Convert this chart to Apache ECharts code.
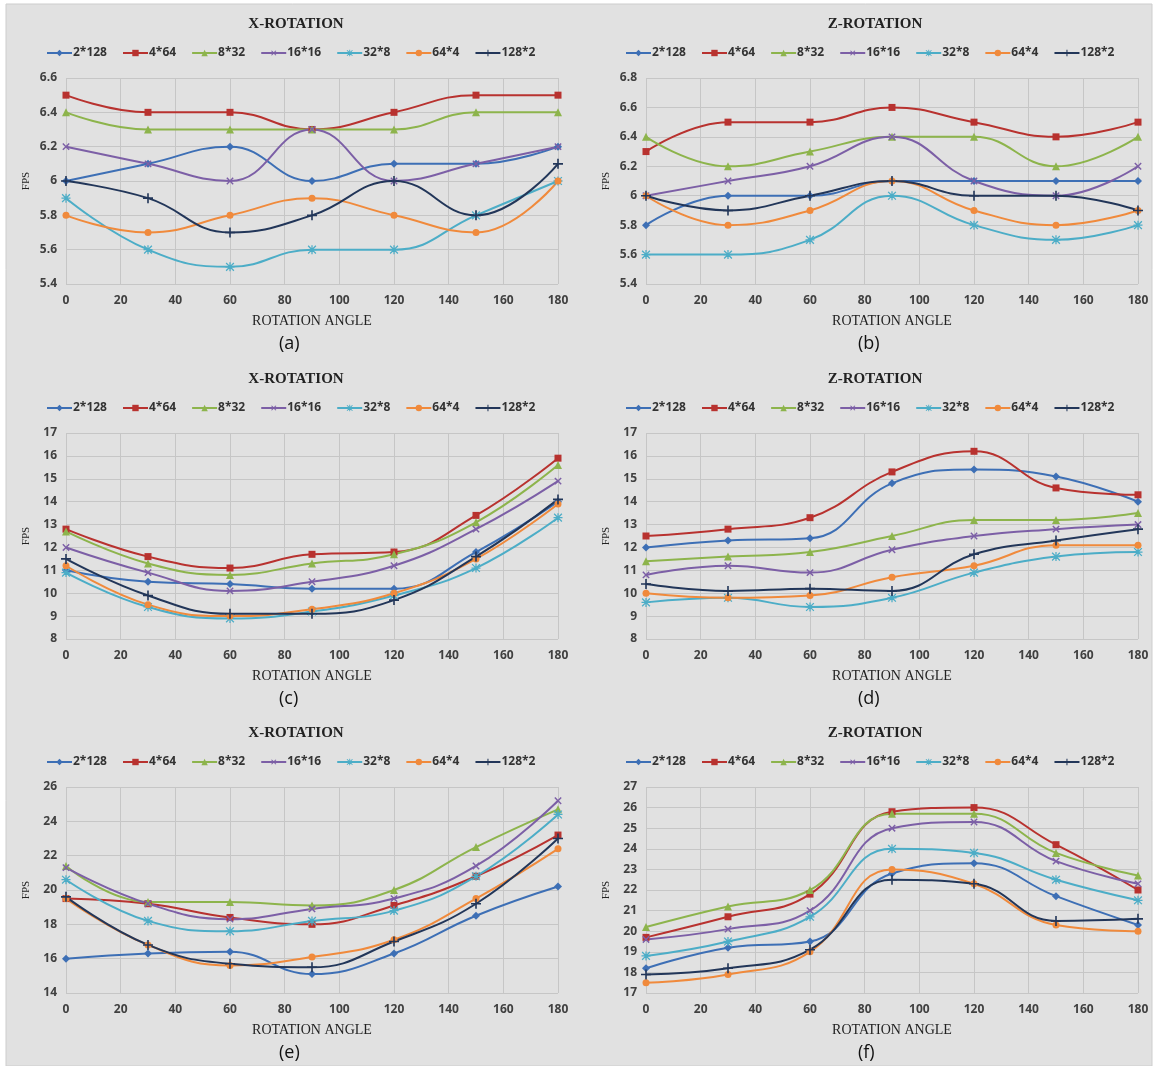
<!DOCTYPE html>
<html><head><meta charset="utf-8">
<script src="https://cdn.jsdelivr.net/npm/echarts@6/dist/echarts.min.js"></script>
<style>html,body{margin:0;padding:0;background:#ffffff;}#c{width:1158px;height:1066px;}</style>
</head><body><div id="c"></div>
<script>
const angles = [0, 30, 60, 90, 120, 150, 180];
const seriesNames = ['2*128', '4*64', '8*32', '16*16', '32*8', '64*4', '128*2'];
const xTicks = [0, 20, 40, 60, 80, 100, 120, 140, 160, 180];
const panelTitles = ['X-ROTATION', 'Z-ROTATION', 'X-ROTATION', 'Z-ROTATION', 'X-ROTATION', 'Z-ROTATION'];
const panelLabels = ['(a)', '(b)', '(c)', '(d)', '(e)', '(f)'];
const yRanges = [[5.4, 6.6, 0.2], [5.4, 6.8, 0.2], [8, 17, 1], [8, 17, 1], [14, 26, 2], [17, 27, 1]];

const panelA = [
  [6.0, 6.1, 6.2, 6.0, 6.1, 6.1, 6.2],
  [6.5, 6.4, 6.4, 6.3, 6.4, 6.5, 6.5],
  [6.4, 6.3, 6.3, 6.3, 6.3, 6.4, 6.4],
  [6.2, 6.1, 6.0, 6.3, 6.0, 6.1, 6.2],
  [5.9, 5.6, 5.5, 5.6, 5.6, 5.8, 6.0],
  [5.8, 5.7, 5.8, 5.9, 5.8, 5.7, 6.0],
  [6.0, 5.9, 5.7, 5.8, 6.0, 5.8, 6.1]
];
const panelB = [
  [5.8, 6.0, 6.0, 6.1, 6.1, 6.1, 6.1],
  [6.3, 6.5, 6.5, 6.6, 6.5, 6.4, 6.5],
  [6.4, 6.2, 6.3, 6.4, 6.4, 6.2, 6.4],
  [6.0, 6.1, 6.2, 6.4, 6.1, 6.0, 6.2],
  [5.6, 5.6, 5.7, 6.0, 5.8, 5.7, 5.8],
  [6.0, 5.8, 5.9, 6.1, 5.9, 5.8, 5.9],
  [6.0, 5.9, 6.0, 6.1, 6.0, 6.0, 5.9]
];
const panelC = [
  [11.0, 10.5, 10.4, 10.2, 10.2, 11.8, 14.0],
  [12.8, 11.6, 11.1, 11.7, 11.8, 13.4, 15.9],
  [12.7, 11.3, 10.8, 11.3, 11.7, 13.1, 15.6],
  [12.0, 10.9, 10.1, 10.5, 11.2, 12.8, 14.9],
  [10.9, 9.4, 8.9, 9.2, 9.9, 11.1, 13.3],
  [11.2, 9.5, 9.0, 9.3, 10.0, 11.5, 13.9],
  [11.5, 9.9, 9.1, 9.1, 9.7, 11.6, 14.1]
];
const panelD = [
  [12.0, 12.3, 12.4, 14.8, 15.4, 15.1, 14.0],
  [12.5, 12.8, 13.3, 15.3, 16.2, 14.6, 14.3],
  [11.4, 11.6, 11.8, 12.5, 13.2, 13.2, 13.5],
  [10.8, 11.2, 10.9, 11.9, 12.5, 12.8, 13.0],
  [9.6, 9.8, 9.4, 9.8, 10.9, 11.6, 11.8],
  [10.0, 9.8, 9.9, 10.7, 11.2, 12.1, 12.1],
  [10.4, 10.1, 10.2, 10.1, 11.7, 12.3, 12.8]
];
const panelE = [
  [16.0, 16.3, 16.4, 15.1, 16.3, 18.5, 20.2],
  [19.5, 19.2, 18.4, 18.0, 19.1, 20.8, 23.2],
  [21.4, 19.3, 19.3, 19.1, 20.0, 22.5, 24.7],
  [21.3, 19.2, 18.3, 18.9, 19.5, 21.4, 25.2],
  [20.6, 18.2, 17.6, 18.2, 18.8, 20.8, 24.4],
  [19.5, 16.8, 15.6, 16.1, 17.1, 19.5, 22.4],
  [19.6, 16.8, 15.7, 15.5, 17.0, 19.2, 23.0]
];
const panelF = [
  [18.2, 19.2, 19.5, 22.8, 23.3, 21.7, 20.3],
  [19.7, 20.7, 21.8, 25.8, 26.0, 24.2, 22.0],
  [20.2, 21.2, 22.0, 25.7, 25.7, 23.8, 22.7],
  [19.6, 20.1, 21.0, 25.0, 25.3, 23.4, 22.3],
  [18.8, 19.5, 20.7, 24.0, 23.8, 22.5, 21.5],
  [17.5, 17.9, 19.0, 23.0, 22.3, 20.3, 20.0],
  [17.9, 18.2, 19.1, 22.5, 22.3, 20.5, 20.6]
];
const panels = [panelA, panelB, panelC, panelD, panelE, panelF];

const colors = ['#3d6fb5', '#b8322f', '#8db44c', '#7c5fa6', '#4cadc7', '#f08a3c', '#223659'];
const PLUS = 'path://M4.2,0H5.8V4.2H10V5.8H5.8V10H4.2V5.8H0V4.2H4.2Z';
const STAR = 'path://M4.3,0H5.7V4.3H10V5.7H5.7V10H4.3V5.7H0V4.3H4.3Z M1.2,0.2L5,4L8.8,0.2L9.8,1.2L6,5L9.8,8.8L8.8,9.8L5,6L1.2,9.8L0.2,8.8L4,5L0.2,1.2Z';
const symbols = ['diamond', 'rect', 'triangle', PLUS, STAR, 'circle', PLUS];
const symRot = [0, 0, 0, 45, 0, 0, 0];
const symSize = [8, 7, 8, 9, 9, 7, 10];

const colLeft = [66, 646];
const colCenter = [291, 870];
const rowTop = [78, 433, 787];
const gw = 492, gh = 206;

const option = {
  animation: false,
  color: colors,
  title: [], legend: [], grid: [], xAxis: [], yAxis: [], series: [],
  graphic: [{
    type: 'rect', z: -10, silent: true,
    shape: {x: 6, y: 4, width: 1146, height: 1062},
    style: {fill: '#e1e1e1', stroke: '#cdcdcd', lineWidth: 1}
  }]
};

for (let p = 0; p < 6; p++) {
  const col = p % 2, row = Math.floor(p / 2);
  const cx = colCenter[col];
  const top = rowTop[row];
  option.title.push({
    text: panelTitles[p], left: cx, top: top - 66, textAlign: 'center',
    textStyle: {fontFamily: 'Liberation Serif', fontWeight: 'bold', fontSize: 15, color: '#222'}
  });
  option.graphic.push({
    type: 'text', left: cx - 12, top: top + gh + 51,
    style: {text: panelLabels[p], font: '18px "Open Sans"', fill: '#111'}
  });
  option.legend.push({
    data: seriesNames.slice(),
    left: cx - 250, top: top - 36, width: 700,
    itemWidth: 25, itemHeight: 8, itemGap: 15,
    textStyle: {fontFamily: 'Open Sans', fontWeight: 'bold', fontSize: 12, color: '#333', padding: [0, 0, 0, -4]},
    selectedMode: false
  });
  option.grid.push({left: colLeft[col], top: top, width: gw, height: gh, containLabel: false});
  option.xAxis.push({
    type: 'value', gridIndex: p, min: 0, max: 180, interval: 20,
    name: 'ROTATION ANGLE', nameLocation: 'middle', nameGap: 30,
    nameTextStyle: {fontFamily: 'Liberation Serif', fontSize: 14, color: '#222'},
    axisLine: {show: false}, axisTick: {show: false},
    axisLabel: {margin: 11, fontFamily: 'Open Sans', fontWeight: 'bold', fontSize: 12, color: '#404040'},
    splitLine: {show: true, lineStyle: {color: '#c6c6c6', width: 1}}
  });
  const yr = yRanges[p];
  option.yAxis.push({
    type: 'value', gridIndex: p, min: yr[0], max: yr[1], interval: yr[2],
    name: 'FPS', nameLocation: 'middle', nameGap: 34, nameRotate: 90,
    nameTextStyle: {fontFamily: 'Liberation Serif', fontSize: 11, color: '#222'},
    axisLine: {show: false}, axisTick: {show: false},
    axisLabel: {margin: 9, fontFamily: 'Open Sans', fontWeight: 'bold', fontSize: 12, color: '#404040'},
    splitLine: {show: true, lineStyle: {color: '#c6c6c6', width: 1}}
  });
  const data = panels[p];
  for (let s = 0; s < 7; s++) {
    option.series.push({
      type: 'line', name: seriesNames[s], xAxisIndex: p, yAxisIndex: p,
      data: angles.map((a, k) => [a, data[s][k]]),
      smooth: 0.45, symbol: symbols[s], symbolSize: symSize[s], symbolRotate: symRot[s],
      showAllSymbol: true,
      lineStyle: {width: 2, color: colors[s]},
      itemStyle: {color: colors[s]}
    });
  }
}

const chart = echarts.init(document.getElementById('c'), null, {renderer: 'canvas'});
chart.setOption(option);
</script></body></html>
